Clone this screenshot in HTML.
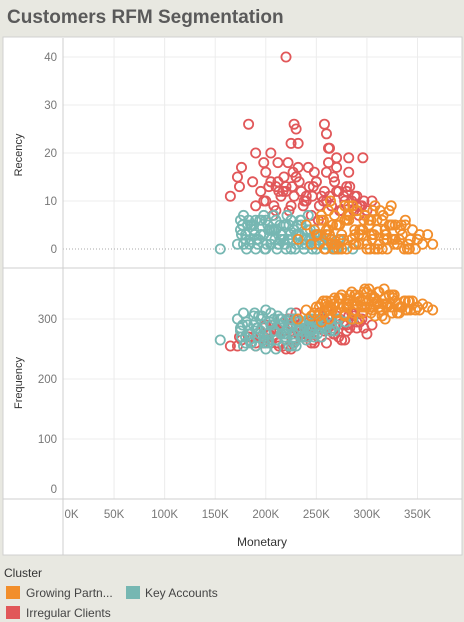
<!DOCTYPE html>
<html><head><meta charset="utf-8"><style>
html,body{margin:0;padding:0;background:#e8e8e1;}
svg{display:block;font-family:"Liberation Sans",sans-serif;}
</style></head><body>
<svg id="chart" width="464" height="622" viewBox="0 0 464 622">
<rect x="0" y="0" width="464" height="622" fill="#e8e8e1"/>
<text x="7" y="23" font-size="19" font-weight="bold" fill="#5a5a5a">Customers RFM Segmentation</text>
<rect x="3" y="37" width="459" height="518" fill="#fff" stroke="#d0d0d0"/>
<g id="grid"></g>
<g id="marks"></g>
<g id="axes"></g>
<text transform="translate(22,155) rotate(-90)" text-anchor="middle" font-size="11" fill="#333">Recency</text>
<text transform="translate(22,383) rotate(-90)" text-anchor="middle" font-size="11" fill="#333">Frequency</text>
<text x="262" y="546" text-anchor="middle" font-size="12" fill="#333">Monetary</text>
<g>
<text x="4" y="577" font-size="12" fill="#333">Cluster</text>
<rect x="6" y="586" width="14" height="13" fill="#f28e2b"/>
<text x="26" y="597" font-size="12" fill="#444">Growing Partn...</text>
<rect x="126" y="586" width="14" height="13" fill="#76b7b2"/>
<text x="145" y="597" font-size="12" fill="#444">Key Accounts</text>
<rect x="6" y="606" width="14" height="13" fill="#e15759"/>
<text x="26" y="617" font-size="12" fill="#444">Irregular Clients</text>
</g>
</svg>
<script>
const xTicks=[0,50,100,150,200,250,300,350];
const xTickLabels=["0K","50K","100K","150K","200K","250K","300K","350K"];
const recencyTicks=[0,10,20,30,40];
const frequencyTicks=[0,100,200,300];

const tealMonetary=[155,172,175,178,180,182,185,188,190,192,195,198,200,202,205,208,210,212,215,218,220,222,225,228,230,232,235,238,240,242,245,248,250,255,260,265,270,175,180,185,190,195,200,205,210,215,220,225,230,235,240,245,250,178,188,198,208,218,228,238,248,258,268,183,193,203,213,223,233,243,176,181,186,191,196,201,206,211,216,221,226,231,236,241,246,251,256,261,266,272,177,184,189,194,199,204,209,214,219,224,229,234,239,244,249,254,259,264,279,286];
const tealRecency=[0,1,6,7,3,5,2,4,6,1,3,7,0,5,2,4,6,1,3,5,0,2,6,4,1,3,5,0,2,7,1,4,0,2,3,1,0,4,2,5,0,3,6,1,4,2,5,0,3,6,1,2,0,1,5,3,7,2,4,0,3,1,0,6,2,4,1,5,3,2,3,0,5,2,6,1,4,0,3,7,2,5,1,4,0,3,2,1,0,2,5,1,3,6,0,4,2,5,1,3,0,6,2,4,1,3,0,2,1,0];
const tealFrequency=[265,300,280,310,260,290,275,305,255,285,300,270,315,260,290,280,250,305,275,295,265,285,310,260,300,280,270,290,265,300,285,275,295,270,285,300,290,285,270,260,295,280,250,310,265,290,275,300,255,285,270,280,295,255,290,265,300,275,260,285,270,290,280,275,305,265,290,255,280,300,270,295,260,285,305,275,290,265,300,280,255,295,270,285,300,275,290,305,285,300,290,265,310,275,260,295,280,300,270,290,265,285,295,275,300,285,290,280,295,300];

const orangeMonetary=[232,240,245,250,255,258,260,262,265,268,270,272,275,278,280,282,285,288,290,292,295,298,300,302,305,308,310,312,315,318,320,322,325,328,330,335,340,345,350,355,360,365,255,260,265,270,275,280,285,290,295,300,305,310,315,320,325,330,262,272,282,292,302,312,322,332,342,352,268,278,288,298,308,318,328,338,248,253,257,263,267,273,277,283,287,293,297,303,307,313,317,323,327,333,337,343,252,259,266,274,281,289,296,304,311,319,326,334,341,348,264,286,306,316,324,338];
const orangeRecency=[2,5,1,3,6,0,4,8,2,7,1,5,3,9,0,6,2,4,8,1,3,7,0,5,2,9,4,1,6,3,0,8,2,5,1,3,0,4,2,1,3,1,7,3,1,5,0,6,2,8,4,1,3,6,0,2,5,1,4,0,9,3,6,1,5,2,0,3,1,6,3,7,0,4,2,5,4,1,6,3,0,5,2,7,1,4,6,0,3,8,2,5,1,4,0,2,3,0,5,2,7,1,4,6,0,3,2,5,1,0,10,9,8,7,9,6];
const orangeFrequency=[300,315,305,320,325,310,330,300,318,335,312,325,340,308,320,330,345,315,325,335,310,350,320,330,340,305,325,345,315,335,320,340,310,330,325,320,315,330,320,325,320,315,295,320,330,310,340,325,300,335,320,345,315,330,305,325,340,310,315,335,325,300,350,320,340,310,330,315,325,305,340,320,335,300,330,315,310,320,330,315,325,335,320,340,310,330,345,320,335,315,350,325,340,320,330,315,305,325,315,335,320,340,330,310,345,325,335,320,330,315,320,330,335,325,320,330];

const redMonetary=[220,183,228,230,258,260,190,225,232,262,263,296,282,270,176,172,174,198,205,212,222,187,165,190,195,200,205,210,215,220,225,230,235,240,245,250,255,260,265,270,275,280,285,290,295,300,305,200,210,220,230,240,250,260,270,280,290,198,203,208,213,218,223,228,233,238,243,248,253,258,263,268,273,278,283,288,293,207,217,227,237,247,257,267,277,287,297,212,232,252,272,292,242,262,282,226,246];
const redRecency=[40,26,26,25,26,24,20,22,22,21,21,19,19,19,17,15,13,18,20,18,18,14,11,9,12,10,14,8,11,13,9,15,12,10,7,14,11,16,9,12,8,13,10,11,9,8,10,16,13,12,15,11,14,10,17,12,9,10,13,9,12,15,8,11,14,10,13,16,9,12,11,14,8,10,13,11,9,7,12,16,9,13,10,15,11,8,10,14,17,6,12,7,17,18,16,13,11];
const redFrequency=[280,270,300,290,310,295,260,285,275,305,300,310,320,290,265,255,270,285,280,260,300,270,255,255,270,290,260,280,300,265,250,310,275,285,260,295,270,315,280,300,265,290,310,285,300,275,290,265,285,250,300,275,290,260,305,280,295,260,275,290,255,280,300,265,285,270,295,260,310,280,290,275,300,265,285,310,295,270,255,290,280,265,300,275,290,305,285,260,280,295,270,300,275,290,305,265,285];

const NS="http://www.w3.org/2000/svg";
const X0=63.5, XK=1.0114;
function xScale(k){return X0+k*XK;}
function yRec(v){return 249-v*4.8;}
function yFreq(v){return 499-v*0.6;}
function mk(tag,attrs,parent){const e=document.createElementNS(NS,tag);for(const k in attrs)e.setAttribute(k,attrs[k]);parent.appendChild(e);return e;}
const grid=document.getElementById('grid'), axes=document.getElementById('axes'), marks=document.getElementById('marks');

xTicks.forEach((t,i)=>{
  if(t>0){const l=mk('line',{x1:xScale(t),x2:xScale(t),y1:38,y2:499,stroke:'#ececec'},grid);
  
  }
  const tx=mk('text',{x:xScale(t)+(t===0?8:0),y:518,'text-anchor':'middle','font-size':'11.5',fill:'#777'},axes);
  tx.textContent=xTickLabels[i];
  
  
});
recencyTicks.forEach(t=>{
  if(t>0){const l=mk('line',{x1:63,x2:462,y1:yRec(t),y2:yRec(t),stroke:'#ececec'},grid);
  
  }
  const tx=mk('text',{x:57,y:yRec(t)+4,'text-anchor':'end','font-size':'11.5',fill:'#777'},axes);
  tx.textContent=t;
  
  
});
const zl=mk('line',{x1:63,x2:462,y1:yRec(0),y2:yRec(0),stroke:'#aaa','stroke-dasharray':'1,2'},grid);


frequencyTicks.forEach(t=>{
  if(t>0){const l=mk('line',{x1:63,x2:462,y1:yFreq(t),y2:yFreq(t),stroke:'#ececec'},grid);
  
  }
  const y=Math.min(yFreq(t)+4,493);
  const tx=mk('text',{x:57,y:y,'text-anchor':'end','font-size':'11.5',fill:'#777'},axes);
  tx.textContent=t;
  
  
});
const a1=mk('line',{x1:63,x2:63,y1:38,y2:555,stroke:'#cfcfcf'},axes);


const a2=mk('line',{x1:3,x2:462,y1:268,y2:268,stroke:'#cfcfcf'},axes);


const a3=mk('line',{x1:3,x2:462,y1:499,y2:499,stroke:'#cfcfcf'},axes);



const series=[
  {name:'irregular-clients',color:'#e15759',m:redMonetary,r:redRecency,f:redFrequency},
  {name:'key-accounts',color:'#76b7b2',m:tealMonetary,r:tealRecency,f:tealFrequency},
  {name:'growing-partners',color:'#f28e2b',m:orangeMonetary,r:orangeRecency,f:orangeFrequency}
];
series.forEach(s=>{
  s.m.forEach((mv,i)=>{
    const c1=mk('circle',{cx:xScale(mv),cy:yRec(s.r[i]),r:4.6,fill:'none',stroke:s.color,'stroke-width':1.8},marks);
    
    
    const c2=mk('circle',{cx:xScale(mv),cy:yFreq(s.f[i]),r:4.6,fill:'none',stroke:s.color,'stroke-width':1.8},marks);
    
    
  });
});
</script>
</body></html>
